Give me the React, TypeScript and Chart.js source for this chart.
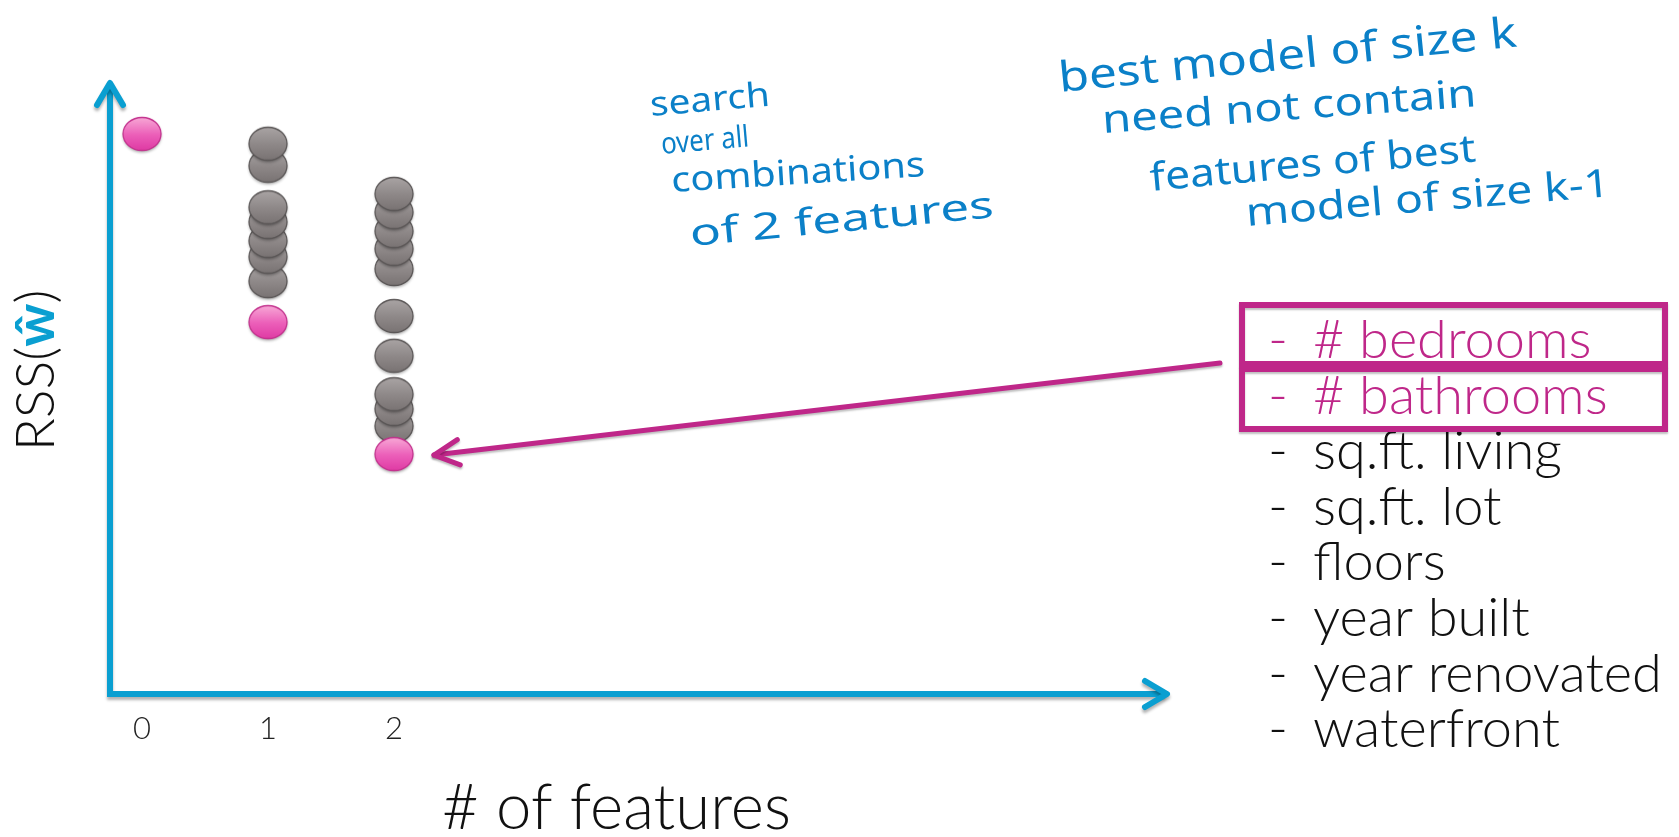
import { useEffect, useRef } from 'react';
import { Chart, registerables } from 'chart.js';

Chart.register(...registerables);

// ---------- data ----------
const NUM_FEATURES_BEST = [0, 1, 2];
const RSS_BEST = [91.5, 60.7, 39.1];

const NUM_FEATURES_K1 = [1, 1, 1, 1, 1, 1, 1];
const RSS_K1 = [67.4, 71.4, 74.0, 77.1, 79.5, 86.3, 89.9];

const NUM_FEATURES_K2 = [2, 2, 2, 2, 2, 2, 2, 2, 2, 2];
const RSS_K2 = [43.7, 46.5, 48.9, 55.2, 61.7, 69.4, 72.7, 75.6, 78.7, 81.7];

const TICK_VALUES = [0, 1, 2];
const TICK_LABELS = ['0', '1', '2'];

const X_TITLE = '# of features';
const Y_TITLE_PARTS = ['RSS(', 'ŵ', ')'];

const FEATURES = [
  '# bedrooms',
  '# bathrooms',
  'sq.ft. living',
  'sq.ft. lot',
  'floors',
  'year built',
  'year renovated',
  'waterfront',
];
const SELECTED_FEATURES = [0, 1];

const NOTES = [
  'search',
  'over all',
  'combinations',
  'of 2 features',
  'best model of size k',
  'need not contain',
  'features of best',
  'model of size k-1',
];

// ---------- layout / style (not data) ----------
const W = 1679;
const H = 837;
const AXIS_COLOR = '#0a9fd1';
const MAGENTA = '#bf2789';
const NOTE_COLOR = '#0b80c8';
const FONT = 'Lato, "Open Sans", sans-serif';
const NOTE_FONT = '"Noto Sans", sans-serif';
// [left x, baseline y, width, angle deg, font size]
const NOTE_LAYOUT = [
  [651, 116, 120, -5, 34],
  [662, 154, 88, -5, 30],
  [672, 192, 254, -3.6, 35],
  [691, 246, 305, -5.4, 37],
  [1060, 92, 460, -5.7, 42],
  [1103, 133, 375, -4.1, 39],
  [1151, 191, 327, -5.2, 39],
  [1247, 226, 365, -4.7, 39],
];

function fitSize(ctx: CanvasRenderingContext2D, text: string, weight: string, family: string, width: number) {
  ctx.font = `${weight} 100px ${family}`;
  const w = ctx.measureText(text).width || 1;
  return (100 * width) / w;
}

function makeBall(top: string, mid: string, bottom: string, stroke: string) {
  const c = document.createElement('canvas');
  c.width = 46;
  c.height = 42;
  const g = c.getContext('2d')!;
  g.save();
  g.shadowColor = 'rgba(0,0,0,0.35)';
  g.shadowBlur = 3;
  g.shadowOffsetY = 2;
  const grad = g.createLinearGradient(0, 4, 0, 38);
  grad.addColorStop(0, top);
  grad.addColorStop(0.5, mid);
  grad.addColorStop(1, bottom);
  g.beginPath();
  g.ellipse(23, 20, 19, 16.5, 0, 0, Math.PI * 2);
  g.fillStyle = grad;
  g.fill();
  g.restore();
  g.beginPath();
  g.ellipse(23, 20, 19, 16.5, 0, 0, Math.PI * 2);
  g.lineWidth = 1.3;
  g.strokeStyle = stroke;
  g.stroke();
  return c;
}

const overlay = {
  id: 'slideOverlay',
  beforeDatasetsDraw(chart: any) {
    const ctx: CanvasRenderingContext2D = chart.ctx;
    const { left, right, top, bottom } = chart.chartArea;
    ctx.save();
    ctx.strokeStyle = AXIS_COLOR;
    ctx.lineWidth = 6;
    ctx.lineJoin = 'miter';
    ctx.lineCap = 'butt';
    ctx.shadowColor = 'rgba(0,0,0,0.3)';
    ctx.shadowBlur = 3;
    ctx.shadowOffsetY = 3;
    ctx.beginPath();
    ctx.moveTo(left, top + 2);
    ctx.lineTo(left, bottom);
    ctx.lineTo(right - 2, bottom);
    ctx.stroke();
    ctx.lineCap = 'round';
    ctx.lineJoin = 'round';
    ctx.beginPath();
    ctx.moveTo(left - 13, top + 22);
    ctx.lineTo(left, top);
    ctx.lineTo(left + 13, top + 22);
    ctx.stroke();
    ctx.beginPath();
    ctx.moveTo(right - 22, bottom - 13);
    ctx.lineTo(right, bottom);
    ctx.lineTo(right - 22, bottom + 13);
    ctx.stroke();
    ctx.restore();
  },
  afterDatasetsDraw(chart: any) {
    const ctx: CanvasRenderingContext2D = chart.ctx;
    const xs = chart.scales.x;
    const { bottom } = chart.chartArea;
    ctx.save();

    // tick labels
    ctx.fillStyle = '#222';
    ctx.textAlign = 'center';
    ctx.textBaseline = 'middle';
    ctx.font = `300 31px ${FONT}`;
    TICK_VALUES.forEach((v, i) => {
      ctx.fillText(TICK_LABELS[i], xs.getPixelForValue(v), bottom + 35);
    });

    // x title
    const xs1 = fitSize(ctx, X_TITLE, '300', FONT, 349);
    ctx.font = `300 ${xs1}px ${FONT}`;
    ctx.fillStyle = '#111';
    ctx.textAlign = 'left';
    ctx.textBaseline = 'alphabetic';
    ctx.fillText(X_TITLE, 442, 829);

    // y title (rotated)
    const full = Y_TITLE_PARTS.join('');
    const ys1 = fitSize(ctx, full, '300', FONT, 157);
    ctx.save();
    ctx.translate(54, 451);
    ctx.rotate(-Math.PI / 2);
    let cx = 0;
    Y_TITLE_PARTS.forEach((p, i) => {
      const bold = i === 1;
      ctx.font = `${bold ? 'bold' : '300'} ${ys1}px ${FONT}`;
      ctx.fillStyle = bold ? AXIS_COLOR : '#111';
      ctx.fillText(p, cx, 0);
      cx += ctx.measureText(p).width;
    });
    ctx.restore();

    // feature list
    const fsz = fitSize(ctx, FEATURES[6], '300', FONT, 349);
    ctx.font = `300 ${fsz}px ${FONT}`;
    FEATURES.forEach((f, i) => {
      const y = 358 + i * 55.6;
      ctx.fillStyle = SELECTED_FEATURES.includes(i) ? MAGENTA : '#111';
      ctx.fillText('-', 1268, y);
      ctx.fillText(f, 1313, y);
    });

    // highlight boxes
    ctx.strokeStyle = MAGENTA;
    ctx.lineWidth = 6;
    ctx.lineJoin = 'miter';
    ctx.shadowColor = 'rgba(0,0,0,0.25)';
    ctx.shadowBlur = 2;
    ctx.shadowOffsetY = 2;
    ctx.strokeRect(1242, 305, 423, 59);
    ctx.strokeRect(1242, 369, 423, 60);

    // arrow to best 2-feature model
    const meta = chart.getDatasetMeta(0);
    const pt = meta.data[2];
    const tx = pt.x + 40;
    const ty = pt.y;
    const sx = 1220;
    const sy = 363;
    ctx.lineWidth = 5;
    ctx.lineCap = 'round';
    ctx.lineJoin = 'round';
    ctx.beginPath();
    ctx.moveTo(sx, sy);
    ctx.lineTo(tx, ty);
    ctx.stroke();
    const ang = Math.atan2(sy - ty, sx - tx);
    const a = (27 * Math.PI) / 180;
    ctx.beginPath();
    ctx.moveTo(tx + 28 * Math.cos(ang - a), ty + 28 * Math.sin(ang - a));
    ctx.lineTo(tx, ty);
    ctx.lineTo(tx + 28 * Math.cos(ang + a), ty + 28 * Math.sin(ang + a));
    ctx.stroke();
    ctx.shadowColor = 'transparent';

    // handwritten notes
    ctx.fillStyle = NOTE_COLOR;
    NOTES.forEach((t, i) => {
      const [lx, by, w, deg, size] = NOTE_LAYOUT[i];
      ctx.save();
      ctx.font = `400 ${size}px ${NOTE_FONT}`;
      const natural = ctx.measureText(t).width || 1;
      ctx.translate(lx, by);
      ctx.rotate((deg * Math.PI) / 180);
      ctx.scale(w / natural, 1);
      ctx.fillText(t, 0, 0);
      ctx.restore();
    });

    ctx.restore();
  },
};

export default function App() {
  const ref = useRef<HTMLCanvasElement | null>(null);

  useEffect(() => {
    document.body.style.margin = '0';
    const canvas = ref.current;
    if (!canvas) return;
    const pink = makeBall('#f7a6d5', '#ec5fb9', '#de37a2', '#c3318d');
    const gray = makeBall('#a8a3a3', '#8e8888', '#777171', '#5a5656');

    const chart = new Chart(canvas, {
      type: 'scatter',
      data: {
        datasets: [
          {
            label: 'Best model of each size',
            data: NUM_FEATURES_BEST.map((x, i) => ({ x, y: RSS_BEST[i] })),
            pointStyle: pink as any,
            pointRadius: 19,
            pointHoverRadius: 19,
          },
          {
            label: 'Models with 2 features',
            data: NUM_FEATURES_K2.map((x, i) => ({ x, y: RSS_K2[i] })),
            pointStyle: gray as any,
            pointRadius: 19,
            pointHoverRadius: 19,
          },
          {
            label: 'Models with 1 feature',
            data: NUM_FEATURES_K1.map((x, i) => ({ x, y: RSS_K1[i] })),
            pointStyle: gray as any,
            pointRadius: 19,
            pointHoverRadius: 19,
          },
        ],
      },
      options: {
        responsive: false,
        animation: false,
        devicePixelRatio: 1,
        layout: { padding: { left: 110, top: 83, right: W - 1167, bottom: H - 694 } },
        plugins: { legend: { display: false }, tooltip: { enabled: false } },
        events: [],
        scales: {
          x: { type: 'linear', min: -0.254, max: 8.135, display: false },
          y: { type: 'linear', min: 0, max: 100, display: false },
        },
      },
      plugins: [overlay],
    });
    return () => chart.destroy();
  }, []);

  return (
    <div style={{ width: W, height: H, background: '#fff' }}>
      <canvas ref={ref} width={W} height={H} style={{ display: 'block' }} />
    </div>
  );
}
